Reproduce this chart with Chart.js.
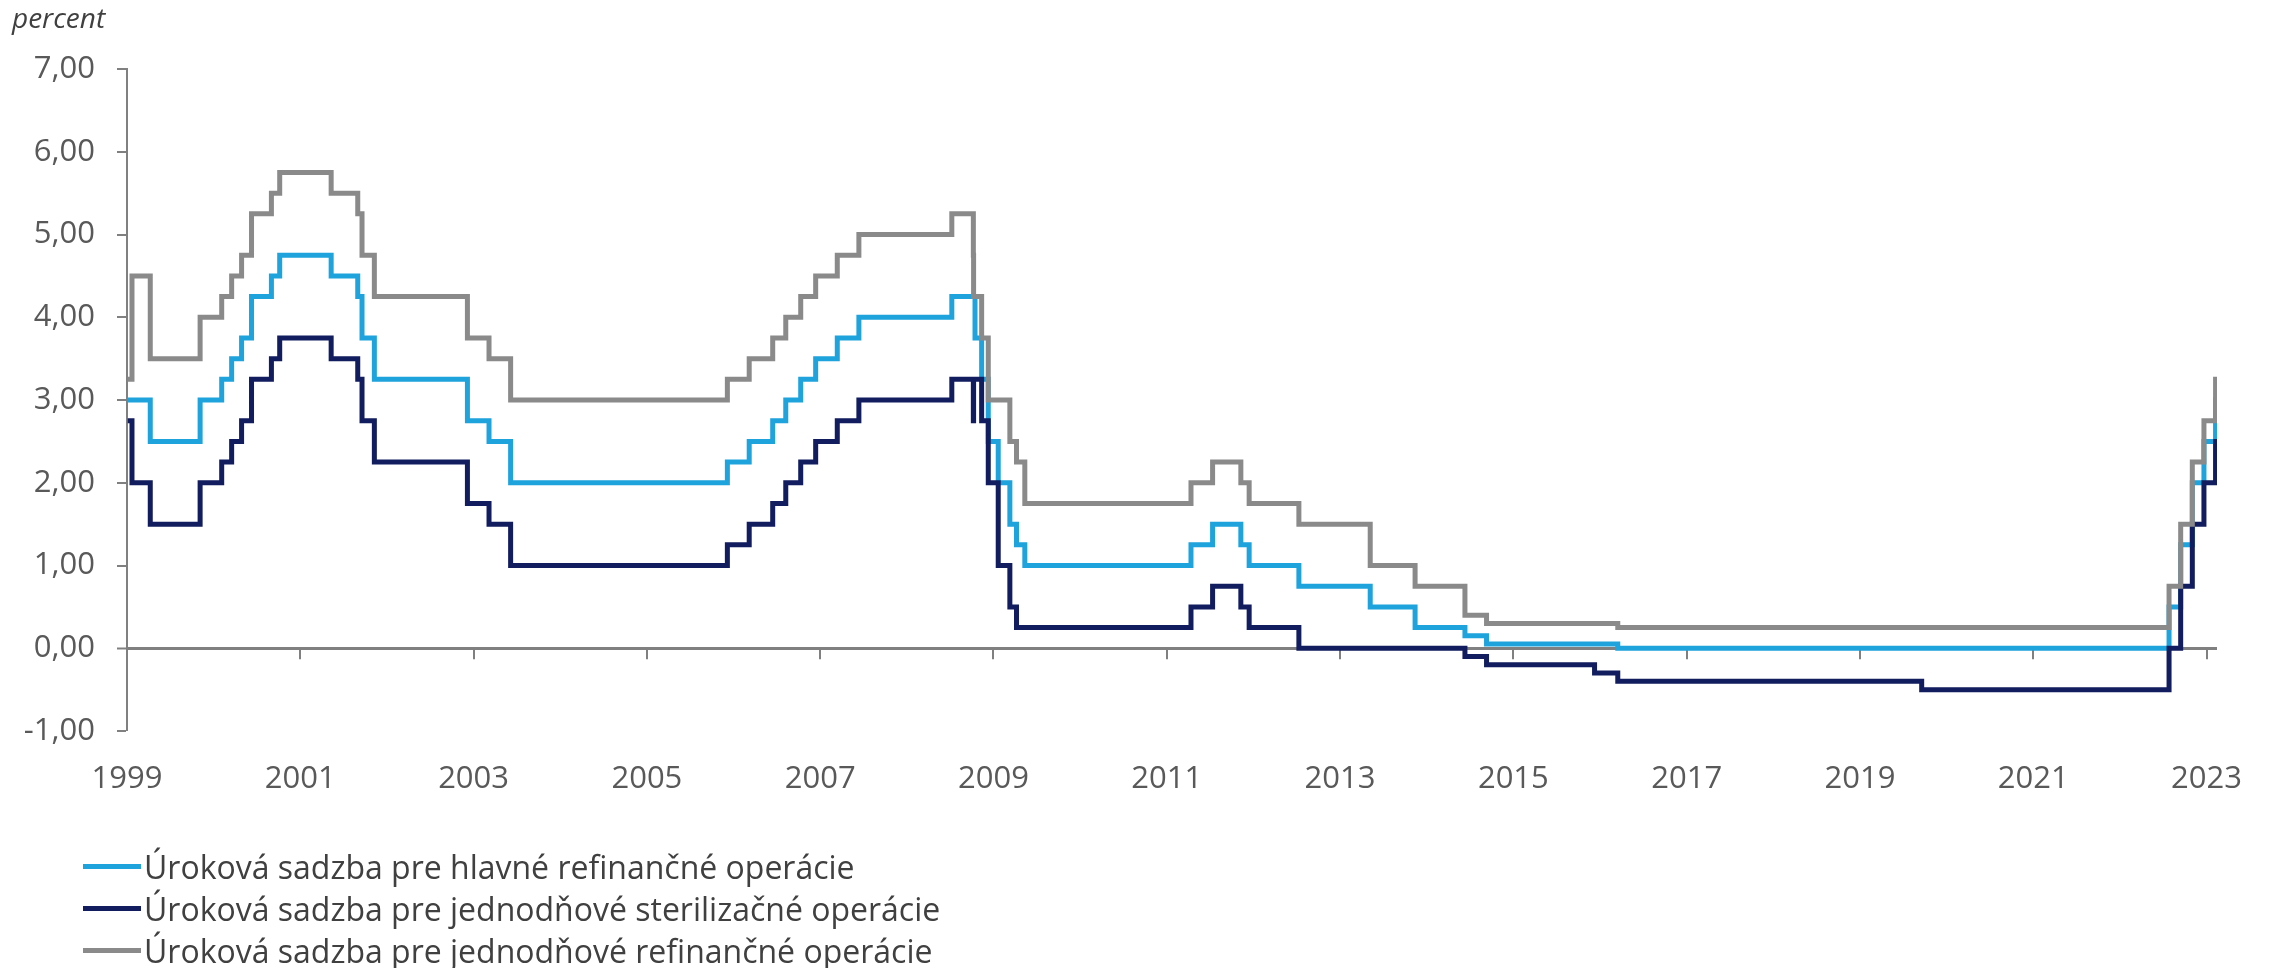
<!DOCTYPE html>
<html>
<head>
<meta charset="utf-8">
<script src="https://cdn.jsdelivr.net/npm/chart.js@4"></script>
<style>
  body { margin: 0; background: #fff; }
  #wrap { position: relative; width: 2272px; height: 968px; }
  #unit { position: absolute; left: 12px; top: -2px; font: italic 28px 'Open Sans'; color: #404040; }
  #legend { position: absolute; left: 83px; top: 845px; font: 32px 'Open Sans'; color: #404040; }
  .row { height: 42px; display: flex; align-items: center; }
  .swatch { width: 58px; height: 5px; margin-right: 3px; }
</style>
</head>
<body>
<div id="wrap">
  <canvas id="chart" width="2272" height="968"></canvas>
  <div id="unit">percent</div>
  <div id="legend"></div>
</div>
<script>
// dátumy zmien sadzieb (posledný = koniec údajov)
const dates = ['1999-01-04','1999-01-22','1999-04-09','1999-11-05','2000-02-04','2000-03-17','2000-04-28','2000-06-09',
  '2000-09-01','2000-10-06','2001-05-11','2001-08-31','2001-09-18','2001-11-09','2002-12-06','2003-03-07','2003-06-06',
  '2005-12-06','2006-03-08','2006-06-15','2006-08-09','2006-10-11','2006-12-13','2007-03-14','2007-06-13','2008-07-09',
  '2008-10-08','2008-10-09','2008-10-15','2008-11-12','2008-12-10','2009-01-21','2009-03-11','2009-04-08','2009-05-13',
  '2011-04-13','2011-07-13','2011-11-09','2011-12-14','2012-07-11','2013-05-08','2013-11-13','2014-06-11','2014-09-10',
  '2015-12-09','2016-03-16','2019-09-18','2022-07-27','2022-09-14','2022-11-02','2022-12-21','2023-02-08','2023-02-14'];

const mro = [3.00,3.00,2.50,3.00,3.25,3.50,3.75,4.25,4.50,4.75,4.50,4.25,3.75,3.25,2.75,2.50,2.00,2.25,2.50,2.75,3.00,
  3.25,3.50,3.75,4.00,4.25,4.25,4.25,3.75,3.25,2.50,2.00,1.50,1.25,1.00,1.25,1.50,1.25,1.00,0.75,0.50,0.25,0.15,0.05,
  0.05,0.00,0.00,0.50,1.25,2.00,2.50,3.00,3.00];

const depo = [2.75,2.00,1.50,2.00,2.25,2.50,2.75,3.25,3.50,3.75,3.50,3.25,2.75,2.25,1.75,1.50,1.00,1.25,1.50,1.75,2.00,
  2.25,2.50,2.75,3.00,3.25,2.75,3.25,3.25,2.75,2.00,1.00,0.50,0.25,0.25,0.50,0.75,0.50,0.25,0.00,0.00,0.00,-0.10,-0.20,
  -0.30,-0.40,-0.50,0.00,0.75,1.50,2.00,2.50,2.50];

const mlf = [3.25,4.50,3.50,4.00,4.25,4.50,4.75,5.25,5.50,5.75,5.50,5.25,4.75,4.25,3.75,3.50,3.00,3.25,3.50,3.75,4.00,
  4.25,4.50,4.75,5.00,5.25,4.75,4.25,4.25,3.75,3.00,3.00,2.50,2.25,1.75,2.00,2.25,2.00,1.75,1.50,1.00,0.75,0.40,0.30,
  0.30,0.25,0.25,0.75,1.50,2.25,2.75,3.25,3.25];

const tickYears = [1999,2001,2003,2005,2007,2009,2011,2013,2015,2017,2019,2021,2023];
const labels = ['Úroková sadzba pre hlavné refinančné operácie',
  'Úroková sadzba pre jednodňové sterilizačné operácie',
  'Úroková sadzba pre jednodňové refinančné operácie'];
const colors = ['#1fa3dc', '#111d5e', '#8a8a8a'];

// dátum -> desatinný rok
function toYear(s) {
  const [y, m, d] = s.split('-').map(Number);
  const t0 = Date.UTC(y, 0, 1), t1 = Date.UTC(y + 1, 0, 1);
  return y + (Date.UTC(y, m - 1, d) - t0) / (t1 - t0);
}
const xs = dates.map(toYear);
const pts = vals => vals.map((v, i) => ({x: xs[i], y: v}));

const axisGray = '#808080';
const textGray = '#595959';
const font = {family: 'Open Sans', size: 31};

// malé značky na osi x pri nule
const zeroTicks = {
  id: 'zeroTicks',
  beforeDatasetsDraw(chart) {
    const {ctx, scales: {x, y}} = chart;
    const y0 = y.getPixelForValue(0);
    ctx.save();
    ctx.strokeStyle = axisGray;
    ctx.lineWidth = 2;
    tickYears.forEach(v => {
      const px = Math.round(x.getPixelForValue(v));
      ctx.beginPath();
      ctx.moveTo(px, y0);
      ctx.lineTo(px, y0 + 11);
      ctx.stroke();
    });
    ctx.restore();
  }
};

const series = [mro, depo, mlf];
const chart = new Chart(document.getElementById('chart'), {
  type: 'line',
  data: {
    datasets: series.map((vals, i) => ({
      label: labels[i],
      data: pts(vals),
      borderColor: colors[i],
      backgroundColor: colors[i],
      borderWidth: 5,
      pointRadius: 0,
      stepped: 'before',
      fill: false,
      order: 2 - i
    }))
  },
  options: {
    responsive: false,
    animation: false,
    layout: {padding: {top: 69, right: 55, bottom: 137, left: 0}},
    plugins: {legend: {display: false}, tooltip: {enabled: false}},
    scales: {
      x: {
        type: 'linear',
        min: 1999,
        max: xs[xs.length - 1],
        afterBuildTicks: scale => { scale.ticks = tickYears.map(v => ({value: v})); },
        afterFit: scale => { scale.height = 100; },
        ticks: {
          font: font, color: textGray, padding: 22, maxRotation: 0, autoSkip: false,
          callback: v => String(v)
        },
        grid: {display: false},
        border: {display: false}
      },
      y: {
        min: -1,
        max: 7,
        afterFit: scale => { scale.width = 127; },
        ticks: {
          stepSize: 1, font: font, color: textGray, padding: 22,
          callback: v => v.toFixed(2).replace('.', ',')
        },
        grid: {
          color: c => c.tick && c.tick.value === 0 ? axisGray : 'rgba(0,0,0,0)',
          lineWidth: c => c.tick && c.tick.value === 0 ? 3 : 0,
          tickColor: axisGray,
          tickLength: 10,
          tickWidth: 2
        },
        border: {display: true, color: axisGray, width: 2}
      }
    }
  },
  plugins: [zeroTicks]
});

// legenda pod grafom, zostavená z datasetov
const legend = document.getElementById('legend');
chart.data.datasets.forEach(ds => {
  const row = document.createElement('div');
  row.className = 'row';
  const sw = document.createElement('span');
  sw.className = 'swatch';
  sw.style.background = ds.borderColor;
  const txt = document.createElement('span');
  txt.textContent = ds.label;
  row.appendChild(sw);
  row.appendChild(txt);
  legend.appendChild(row);
});
</script>
</body>
</html>
